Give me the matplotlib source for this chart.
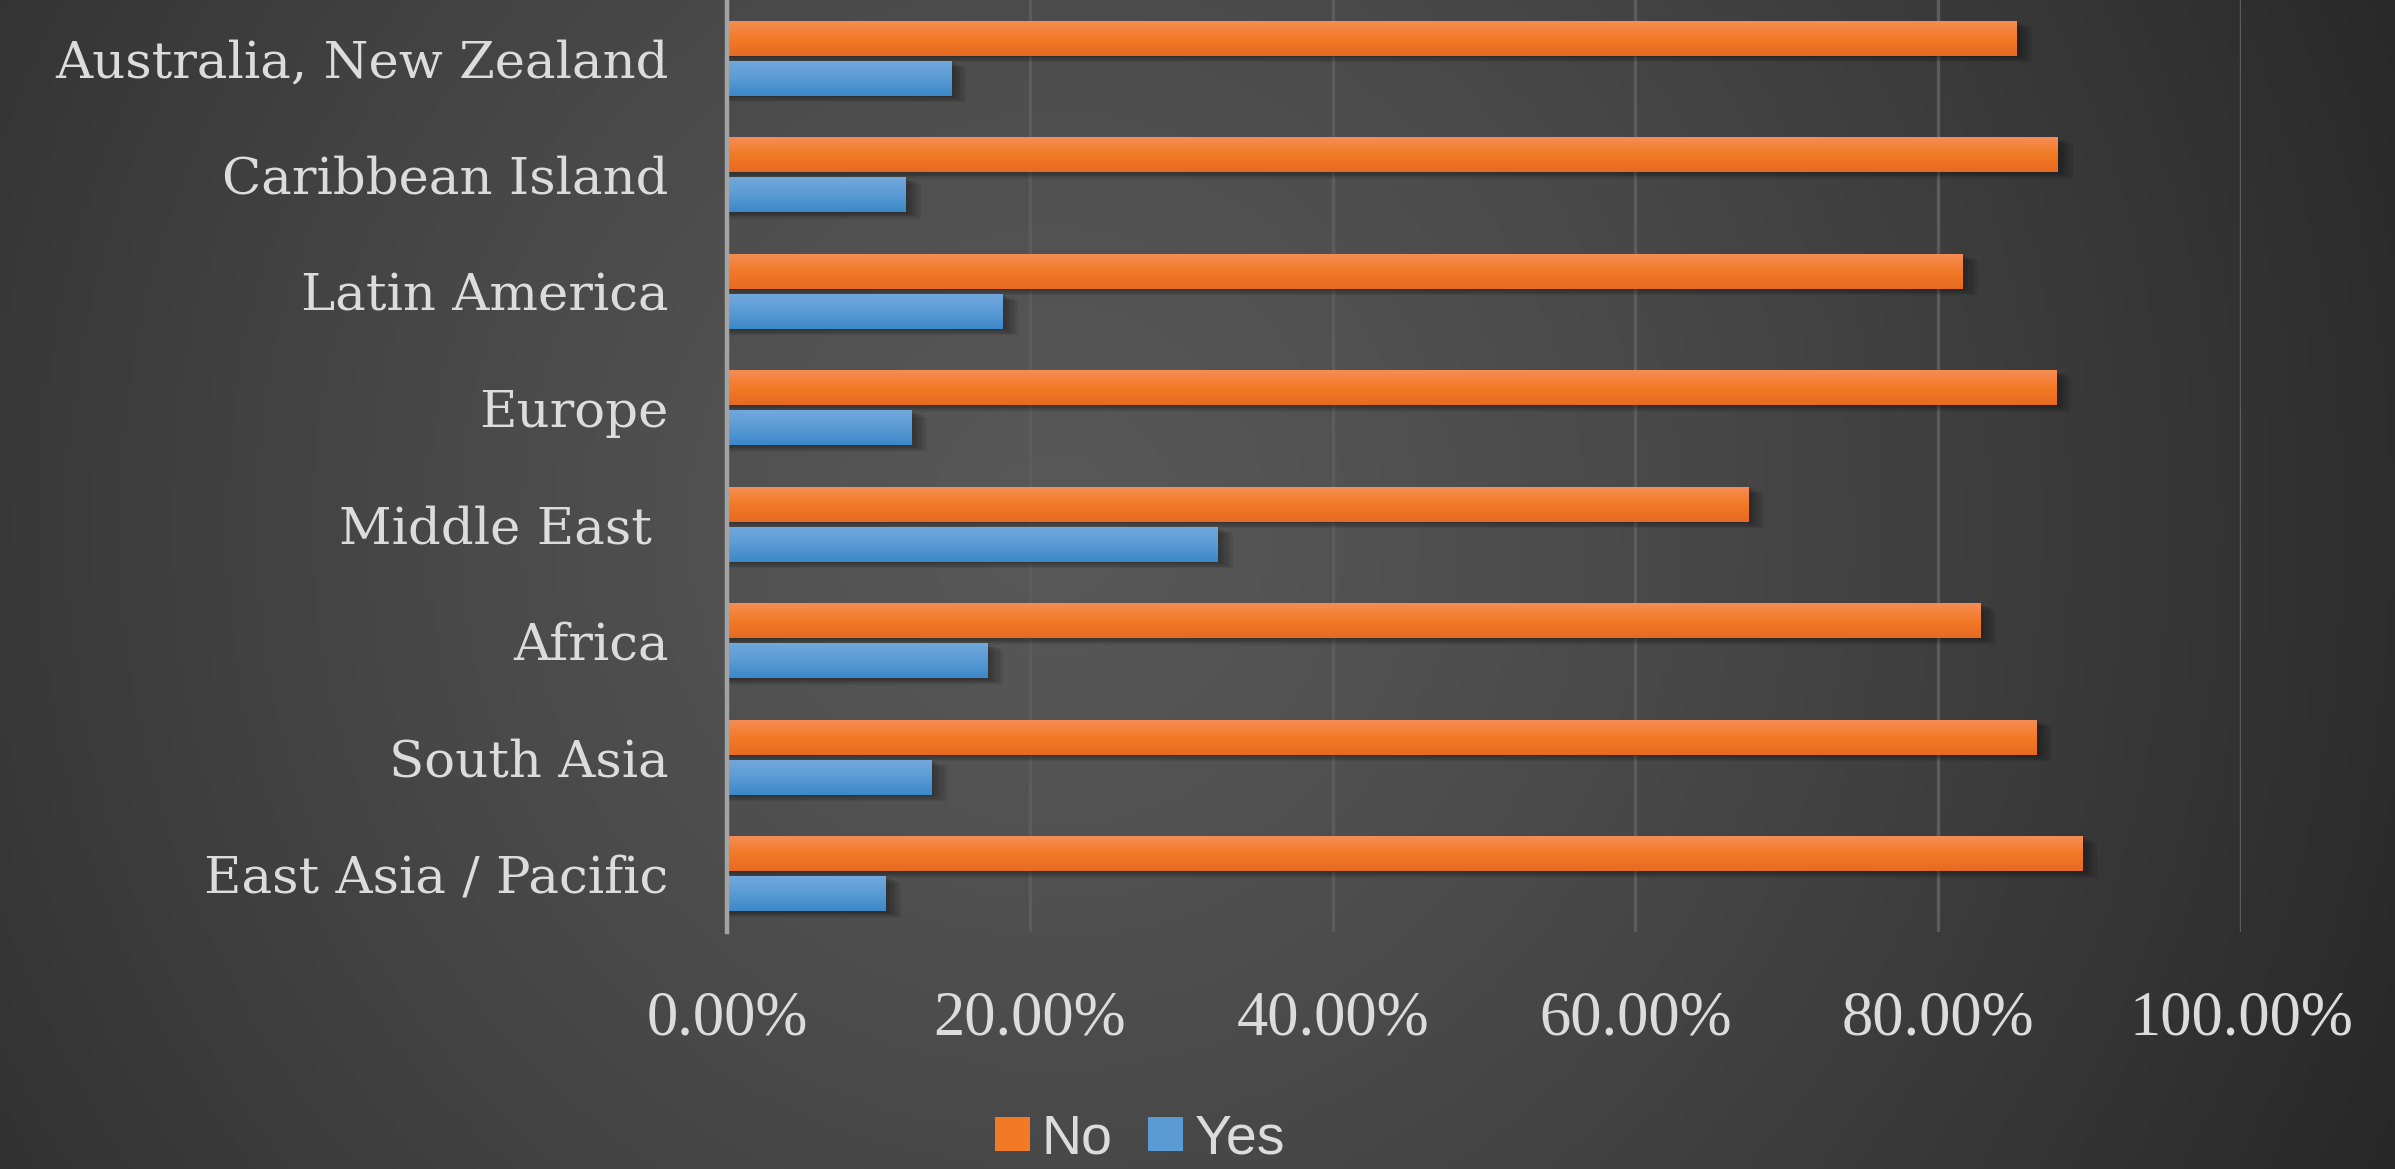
import numpy as np
import matplotlib
matplotlib.use('Agg')
import matplotlib.pyplot as plt
from matplotlib.patches import Patch
from matplotlib.ticker import FuncFormatter

# data, listed bottom to top as drawn on the axis
regions = ['East Asia / Pacific', 'South Asia', 'Africa', 'Middle East ',
           'Europe', 'Latin America', 'Caribbean Island', 'Australia, New Zealand']
no_vals = [0.895, 0.865, 0.828, 0.675, 0.878, 0.816, 0.879, 0.852]
yes_vals = [0.105, 0.135, 0.172, 0.324, 0.122, 0.182, 0.118, 0.148]
xticks = [0.0, 0.2, 0.4, 0.6, 0.8, 1.0]

label_col = '#dcdcdc'
orange = ('#f58d55', '#f27a26', '#e76a22')
blue = ('#72a8dc', '#5a9bd5', '#3c88ca')

W, H, dpi = 2395, 1169, 100
fig = plt.figure(figsize=(W/dpi, H/dpi), dpi=dpi)

# radial dark background
bg = fig.add_axes([0, 0, 1, 1], zorder=-10)
gx, gy = np.meshgrid(np.linspace(0, 1, 480), np.linspace(0, 1, 240))
r = np.sqrt(((gx - 0.44) / 0.62) ** 2 + ((gy - 0.45) / 1.3) ** 2)
r = np.clip(r, 0, 1)
v = (0x58 - (0x58 - 0x27) * r ** 1.3) / 255.0
bg.imshow(np.dstack([v, v, v]), extent=[0, 1, 0, 1], aspect='auto', origin='upper')
bg.axis('off')

ax = fig.add_axes([727/W, 1 - 932/H, (2241 - 727)/W, 932/H])
ax.patch.set_alpha(0)

y = np.arange(len(regions))
h = 0.30
off = 0.172

def grad_bars(vals, ypos, cols):
    bars = ax.barh(ypos, vals, height=h, color=cols[1], zorder=3)
    # soft shadow under each bar
    for k in range(1, 6):
        ax.barh(ypos - 0.011 * k, np.array(vals) + 0.002 * k, height=h,
                color='black', alpha=0.08, zorder=2, linewidth=0)
    cmap = matplotlib.colors.LinearSegmentedColormap.from_list('g', list(cols))
    grad = np.linspace(0, 1, 64).reshape(-1, 1)
    for b in bars:
        x0, y0 = b.get_x(), b.get_y()
        ax.imshow(grad, cmap=cmap, aspect='auto', origin='upper', zorder=4,
                  extent=[x0, x0 + b.get_width(), y0, y0 + b.get_height()])
    return bars

grad_bars(no_vals, y + off, orange)
grad_bars(yes_vals, y - off, blue)

ax.set_xlim(0, 1.0)
ax.set_ylim(-0.5, len(regions) - 0.5)
ax.set_xticks(xticks)
ax.xaxis.set_major_formatter(FuncFormatter(lambda x, p: '{:.2f}%'.format(x * 100)))
ax.set_yticks(y)
ax.set_yticklabels(regions)

for s in ['top', 'right', 'bottom']:
    ax.spines[s].set_visible(False)
ax.spines['left'].set_color('#a3a3a3')
ax.spines['left'].set_linewidth(3.2)
ax.spines['left'].set_zorder(5)

ax.grid(axis='x', color='#5c5c5c', linewidth=2.4, zorder=1)
ax.set_axisbelow(True)
ax.tick_params(length=0)
ax.tick_params(axis='y', pad=42, labelsize=37, labelcolor=label_col)
ax.tick_params(axis='x', pad=42, labelsize=45, labelcolor=label_col)
for t in ax.get_yticklabels():
    t.set_fontfamily('DejaVu Serif')
for t in ax.get_xticklabels():
    t.set_fontfamily('Liberation Serif')

handles = [Patch(facecolor=orange[1], label='No'), Patch(facecolor=blue[1], label='Yes')]
fig.legend(handles=handles, loc='center', bbox_to_anchor=(1140/W, 1 - 1140/H), ncol=2,
           frameon=False, prop={'family': 'Liberation Sans', 'size': 40},
           labelcolor=label_col, handlelength=0.63, handleheight=0.56,
           handletextpad=0.2, columnspacing=0.65, borderpad=0)

fig.savefig('out.png', dpi=dpi)
